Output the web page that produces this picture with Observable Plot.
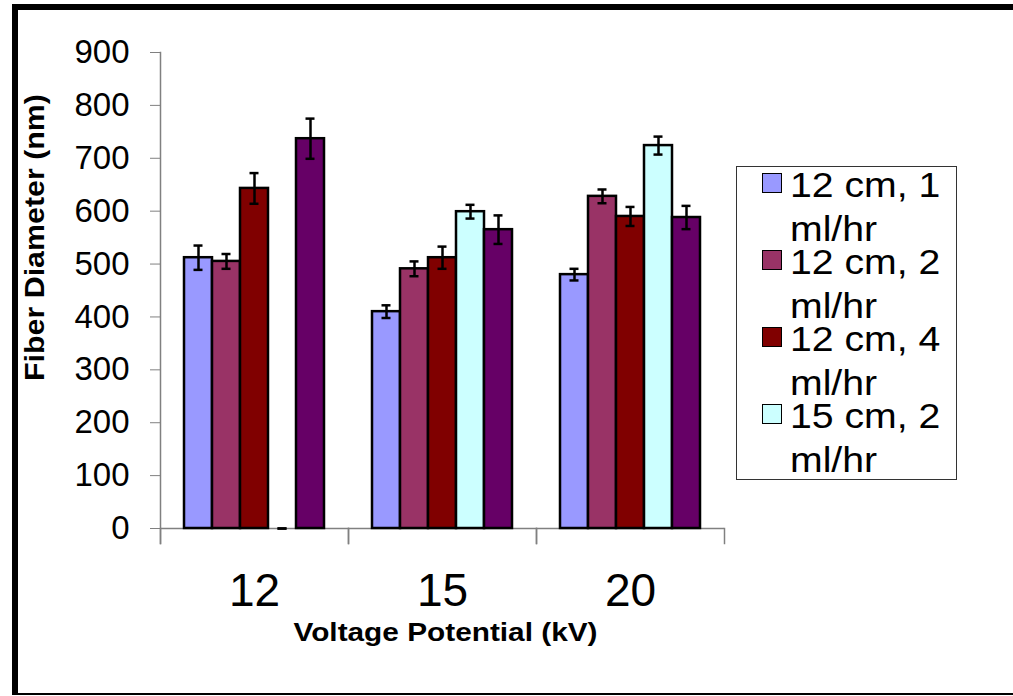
<!DOCTYPE html>
<html>
<head>
<meta charset="utf-8">
<script src="https://cdn.jsdelivr.net/npm/d3@7"></script>
<script src="https://cdn.jsdelivr.net/npm/@observablehq/plot@0.6"></script>
<style>
html, body { margin: 0; padding: 0; background: #fff; }
#wrap { position: relative; width: 1013px; height: 696px; overflow: hidden; font-family: "Liberation Sans", Arial, sans-serif; }
#wrap svg { position: absolute; left: 0; top: 0; }
#frame { position: absolute; left: 12px; top: 4px; width: 1001px; height: 691px; border-left: 6px solid #000; border-top: 6px solid #000; border-bottom: 2px solid #000; box-sizing: border-box; pointer-events: none; }
#legend { position: absolute; left: 736px; top: 166px; width: 221px; height: 314px; border: 1px solid #333; box-sizing: border-box; background: #fff; overflow: hidden; }
#legend .inner { margin-top: -4px; }
#legend .entry { display: flex; height: 77px; line-height: 44px; font-size: 35px; color: #000; }
#legend .sw { flex: none; width: 20px; height: 20px; border: 1px solid #000; box-sizing: border-box; margin: 10px 8px 0 25px; }
#legend .lab { width: 160px; transform: scaleX(1.12); transform-origin: left top; white-space: normal; }
</style>
</head>
<body>
<div id="wrap"><div id="frame"></div><div id="legend"><div class="inner"></div></div></div>
<script>
// Categories
const voltages = ["12", "15", "20"];
const seriesNames = ["12 cm, 1 ml/hr", "12 cm, 2 ml/hr", "12 cm, 4 ml/hr", "15 cm, 2 ml/hr", "15 cm, 4 ml/hr"];
const seriesColors = ["#9999FF", "#993366", "#800000", "#CCFFFF", "#660066"];
const legendCount = 4; // only four entries fit in the legend box

// Mean fiber diameter (nm) per series, for voltages 12, 15, 20 kV
const mean12cm1 = [512, 410, 480];
const mean12cm2 = [505, 491, 628];
const mean12cm4 = [643, 512, 590];
const mean15cm2 = [0, 599, 724];
const mean15cm4 = [737, 565, 588];

// Error (± nm)
const err12cm1 = [23, 12, 11];
const err12cm2 = [14, 14, 13];
const err12cm4 = [29, 21, 18];
const err15cm2 = [0, 13, 17];
const err15cm4 = [38, 27, 22];

const yTicks = [0, 100, 200, 300, 400, 500, 600, 700, 800, 900];
const yTitle = "Fiber Diameter (nm)";
const xTitle = "Voltage Potential (kV)";

const meanSets = [mean12cm1, mean12cm2, mean12cm4, mean15cm2, mean15cm4];
const errSets = [err12cm1, err12cm2, err12cm4, err15cm2, err15cm4];
const rows = [];
voltages.forEach((v, i) => {
  seriesNames.forEach((s, j) => {
    rows.push({voltage: v, series: s, value: meanSets[j][i], err: errSets[j][i]});
  });
});

const W = 1013, H = 696, mT = 52, mB = 168, mL = 160, mR = 289;
const plotH = H - mT - mB;
const gray = "#808080";

const chart = Plot.plot({
  width: W, height: H,
  marginLeft: mL, marginRight: mR, marginTop: mT, marginBottom: mB,
  style: {fontFamily: "'Liberation Sans', Arial, sans-serif", color: "black", background: "transparent", overflow: "visible"},
  fx: {domain: voltages, padding: 0},
  x: {domain: seriesNames, paddingInner: 0, paddingOuter: 0.8, axis: null},
  y: {domain: [0, 900]},
  color: {domain: seriesNames, range: seriesColors},
  marks: [
    Plot.ruleY([0], {stroke: gray, strokeWidth: 1.5}),
    // y axis line (first facet only), extending down as the first category separator
    Plot.frame({anchor: "left", fx: () => voltages[0], stroke: gray, strokeWidth: 1.5, insetBottom: -15}),
    // category separators below the axis
    Plot.frame({anchor: "left", stroke: gray, strokeWidth: 1.5, insetTop: plotH, insetBottom: -15}),
    Plot.frame({anchor: "right", stroke: gray, strokeWidth: 1.5, insetTop: plotH, insetBottom: -15}),
    Plot.axisY({ticks: yTicks, tickSize: 10, tickPadding: 21, fontSize: 33, stroke: gray, fill: "black", label: null}),
    Plot.axisFx({anchor: "bottom", tickSize: 0, tickPadding: 45, fontSize: 46, fill: "black", label: null}),
    Plot.barY(rows.filter(d => d.value > 0), {fx: "voltage", x: "series", y: "value", fill: "series", stroke: "black", strokeWidth: 2.5}),
    Plot.ruleX(rows, {fx: "voltage", x: "series", y1: d => d.value - d.err, y2: d => d.value + d.err, stroke: "black", strokeWidth: 2.5}),
    Plot.tickY(rows, {fx: "voltage", x: "series", y: d => d.value - d.err, stroke: "black", strokeWidth: 2.5, insetLeft: 9.5, insetRight: 9.5}),
    Plot.tickY(rows, {fx: "voltage", x: "series", y: d => d.value + d.err, stroke: "black", strokeWidth: 2.5, insetLeft: 9.5, insetRight: 9.5}),
    Plot.text([yTitle], {text: d => d, fx: () => voltages[0], frameAnchor: "left", rotate: -90, dx: -125, dy: -53, lineAnchor: "middle", textAnchor: "middle", fontSize: 27, fontWeight: "bold", fill: "black"}),
    Plot.text([xTitle], {text: d => d, fx: () => voltages[1], frameAnchor: "bottom", dx: 3, dy: 104, lineAnchor: "middle", textAnchor: "middle", fontSize: 26, fontWeight: "bold", fill: "black"})
  ]
});

const wrap = document.getElementById("wrap");
wrap.insertBefore(chart, wrap.firstChild);

// stretch the bold axis titles horizontally like the original
d3.select(chart).selectAll("text").each(function() {
  const t = this.textContent;
  if (t === yTitle) d3.select(this).attr("textLength", 287).attr("lengthAdjust", "spacingAndGlyphs");
  if (t === xTitle) d3.select(this).attr("textLength", 304).attr("lengthAdjust", "spacingAndGlyphs");
});

// Legend (first four series)
const inner = d3.select("#legend .inner");
seriesNames.slice(0, legendCount).forEach((s, i) => {
  const e = inner.append("div").attr("class", "entry");
  e.append("div").attr("class", "sw").style("background", seriesColors[i]);
  e.append("div").attr("class", "lab").text(s);
});
</script>
</body>
</html>
